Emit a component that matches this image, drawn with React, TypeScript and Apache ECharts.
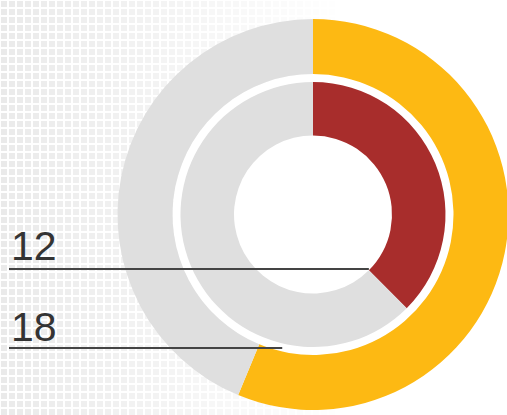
import React, { useEffect, useRef } from 'react';
import * as echarts from 'echarts';

// Data
const seriesNames = ['inner', 'outer'];
const innerValues = [12, 20]; // highlighted share, remainder
const outerValues = [18, 14]; // highlighted share, remainder
const labelTexts = ['12', '18'];

// Layout / style constants
const W = 507;
const H = 415;
const CX = 313;
const CY = 214.5;
const OUTER_R: [number, number] = [140.5, 195.5];
const INNER_R: [number, number] = [79, 132.5];
const GREY = '#DFDFDF';
const RED = '#A82D2C';
const YELLOW = '#FDB913';
const INK = '#343434';

function endAngle(values: number[]) {
  const total = values.reduce((a, b) => a + b, 0);
  return (values[0] / total) * Math.PI * 2; // clockwise from 12 o'clock
}

function buildBackground() {
  const els: any[] = [];
  const pitch = 8;
  const size = 6;
  const fadeEnd = 340;
  for (let i = 0; i * pitch < fadeEnd; i++) {
    const x = i * pitch + 1;
    const t = Math.min(1, x / fadeEnd);
    const c = Math.round(234 + (255 - 234) * t);
    const fill = `rgb(${c},${c},${c})`;
    for (let j = 0; j * pitch < H; j++) {
      els.push({
        type: 'rect',
        silent: true,
        z: 0,
        shape: { x, y: j * pitch + 1, width: size, height: size },
        style: { fill },
      });
    }
  }
  return els;
}

function buildLabels() {
  const els: any[] = [];
  const aIn = endAngle(innerValues);
  const rIn = INNER_R[0];
  const yIn = Math.floor(CY - rIn * Math.cos(aIn)) - 1;
  const xIn = CX + rIn * Math.sin(aIn);
  const aOut = endAngle(outerValues);
  const rOut = OUTER_R[0] + 4;
  const yOut = Math.round(CY - rOut * Math.cos(aOut));
  const gapR = (OUTER_R[0] + INNER_R[1]) / 2 + 0.5;
  const dy = yOut - CY;
  const xOut = CX - Math.sqrt(Math.max(0, gapR * gapR - dy * dy));
  const anchors = [
    { y: yIn, x: xIn, text: labelTexts[0], gap: 2.5 },
    { y: yOut, x: xOut, text: labelTexts[1], gap: 1 },
  ];
  anchors.forEach((a) => {
    els.push({
      type: 'line',
      silent: true,
      z: 20,
      shape: { x1: 9, y1: a.y, x2: a.x, y2: a.y },
      style: { stroke: '#444444', lineWidth: 2 },
    });
    els.push({
      type: 'text',
      silent: true,
      z: 20,
      x: 11,
      y: a.y - a.gap,
      style: {
        text: a.text,
        fill: INK,
        fontSize: 41,
        fontFamily: 'Liberation Sans',
        align: 'left',
        verticalAlign: 'bottom',
      },
    });
  });
  return els;
}

export default function App() {
  const ref = useRef<HTMLDivElement>(null);
  useEffect(() => {
    if (!ref.current) return;
    const chart = echarts.init(ref.current, undefined, { renderer: 'svg' });
    const common = {
      type: 'pie',
      center: [CX, CY],
      startAngle: 90,
      clockwise: true,
      silent: true,
      label: { show: false },
      labelLine: { show: false },
      emphasis: { disabled: true },
      z: 2,
    };
    chart.setOption({
      animation: false,
      backgroundColor: '#ffffff',
      graphic: { elements: [...buildBackground(), ...buildLabels()] },
      series: [
        {
          ...common,
          name: 'backdrop',
          radius: [0, OUTER_R[0]],
          z: 1,
          data: [{ value: 1, itemStyle: { color: '#ffffff' } }],
        },
        {
          ...common,
          name: seriesNames[1],
          radius: OUTER_R,
          data: [
            { value: outerValues[0], itemStyle: { color: YELLOW } },
            { value: outerValues[1], itemStyle: { color: GREY } },
          ],
        },
        {
          ...common,
          name: seriesNames[0],
          radius: INNER_R,
          data: [
            { value: innerValues[0], itemStyle: { color: RED } },
            { value: innerValues[1], itemStyle: { color: GREY } },
          ],
        },
      ],
    });
    return () => chart.dispose();
  }, []);
  return (
    <div
      ref={ref}
      style={{ position: 'fixed', left: 0, top: 0, width: W, height: H }}
    />
  );
}
